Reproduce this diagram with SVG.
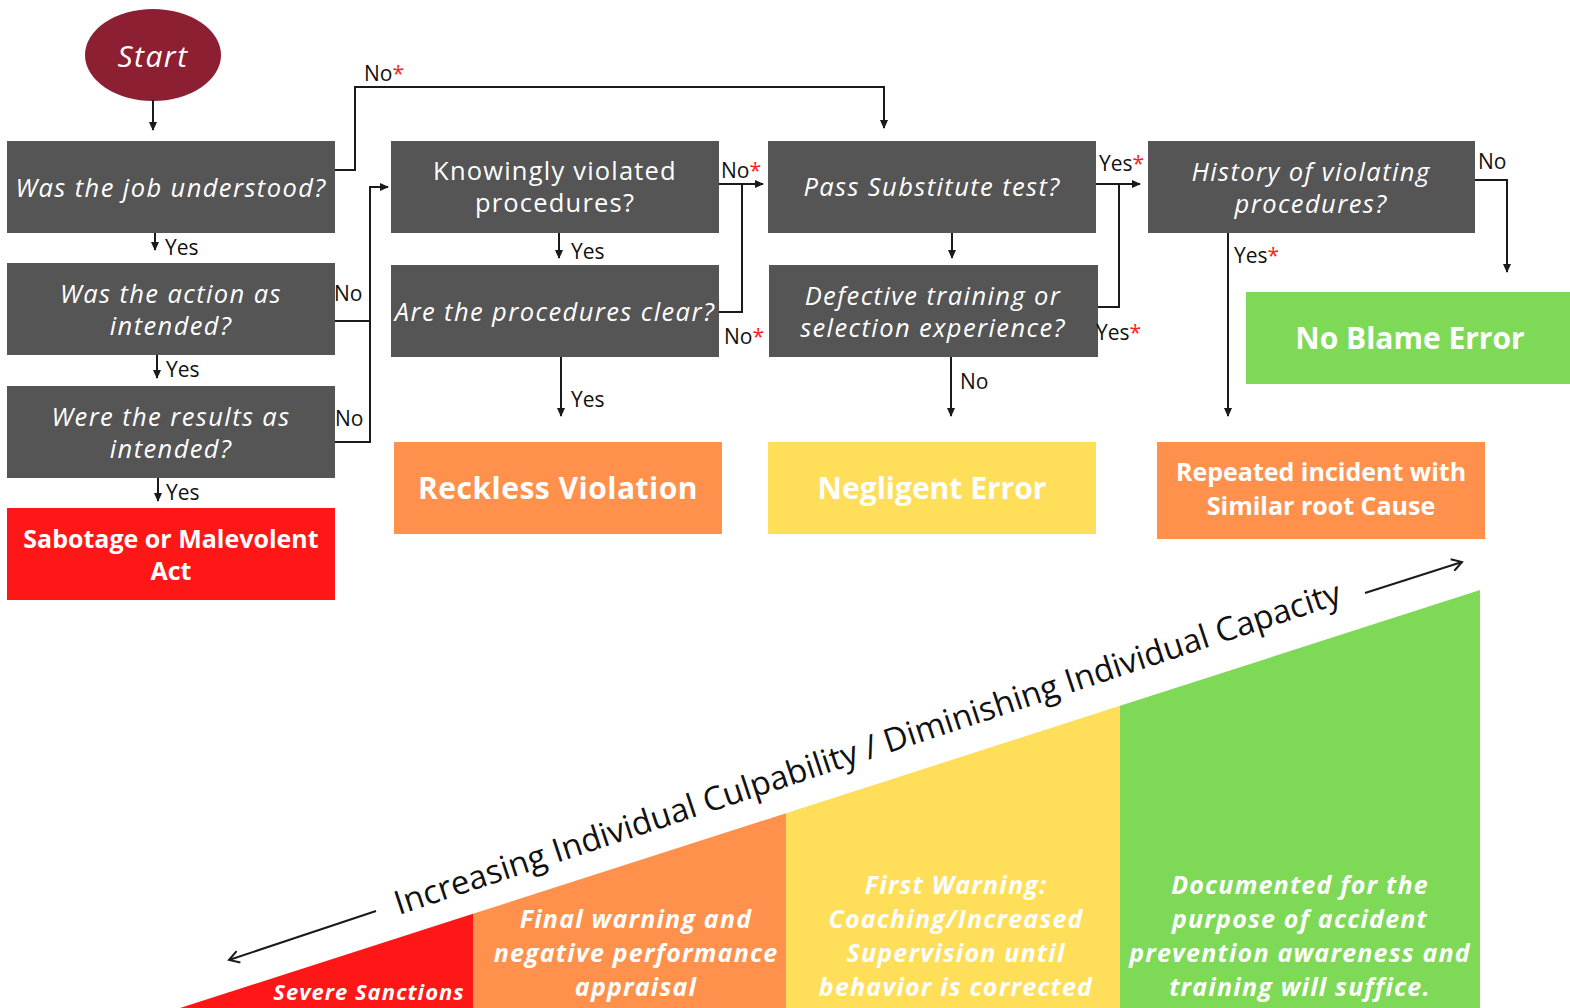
<svg xmlns="http://www.w3.org/2000/svg" width="1570" height="1008" viewBox="0 0 1570 1008">
<defs>
<marker id="ah" markerWidth="10" markerHeight="10" refX="8" refY="5" orient="auto" markerUnits="userSpaceOnUse">
<path d="M0,1 L9,5 L0,9 Z" fill="#1a1a1a"/>
</marker>
<marker id="oa" markerWidth="14" markerHeight="14" refX="11" refY="7" orient="auto" markerUnits="userSpaceOnUse">
<path d="M1,1 L11,7 L1,13" fill="none" stroke="#1a1a1a" stroke-width="2"/>
</marker>
<style>
.q{fill:#555555}
.qt{font-family:"Open Sans",sans-serif;font-size:25.5px;letter-spacing:1.4px;font-style:italic;fill:#ffffff;text-anchor:middle;dominant-baseline:central}
.qn{font-style:normal;letter-spacing:1.2px}
.rt{font-family:"Open Sans",sans-serif;font-weight:bold;fill:#ffffff;text-anchor:middle;dominant-baseline:central}
.lb{font-family:"Open Sans",sans-serif;font-size:21px;fill:#111111;dominant-baseline:central}
.st{fill:#ff2020}
.ln{fill:none;stroke:#1a1a1a;stroke-width:2}
.bt{font-family:"Open Sans",sans-serif;font-weight:bold;font-style:italic;font-size:25px;letter-spacing:1.2px;fill:#ffffff;text-anchor:middle;dominant-baseline:central}
</style>
</defs>
<rect width="1570" height="1008" fill="#ffffff"/>

<g id="start">
<ellipse cx="153" cy="55" rx="68" ry="46" fill="#8c1f32"/>
<text x="153" y="55" class="qt" style="font-size:30px;letter-spacing:1.5px">Start</text>
</g>

<g id="q1"><rect class="q" x="7" y="141" width="328" height="92"/><text class="qt" x="171" y="187">Was the job understood?</text></g>
<g id="q2"><rect class="q" x="7" y="263" width="328" height="92"/><text class="qt" x="171" y="293">Was the action as<tspan x="171" dy="32">intended?</tspan></text></g>
<g id="q3"><rect class="q" x="7" y="386" width="328" height="92"/><text class="qt" x="171" y="416">Were the results as<tspan x="171" dy="32">intended?</tspan></text></g>
<g id="sabotage"><rect x="7" y="508" width="328" height="92" fill="#ff1616"/><text class="rt" x="171" y="538" style="font-size:25px">Sabotage or Malevolent<tspan x="171" dy="32">Act</tspan></text></g>

<g id="q4"><rect class="q" x="391" y="141" width="328" height="92"/><text class="qt qn" x="555" y="170">Knowingly violated<tspan x="555" dy="32">procedures?</tspan></text></g>
<g id="q5"><rect class="q" x="391" y="265" width="328" height="92"/><text class="qt" x="555" y="311">Are the procedures clear?</text></g>
<g id="reckless"><rect x="394" y="442" width="328" height="92" fill="#ff914d"/><text class="rt" x="558" y="487" style="font-size:30px;letter-spacing:0.5px">Reckless Violation</text></g>

<g id="q6"><rect class="q" x="768" y="141" width="328" height="92"/><text class="qt" x="932" y="186">Pass Substitute test?</text></g>
<g id="q7"><rect class="q" x="769" y="265" width="329" height="92"/><text class="qt" x="933" y="295">Defective training or<tspan x="933" dy="32">selection experience?</tspan></text></g>
<g id="negligent"><rect x="768" y="442" width="328" height="92" fill="#ffde59"/><text class="rt" x="932" y="487" style="font-size:30px">Negligent Error</text></g>

<g id="q8"><rect class="q" x="1148" y="141" width="327" height="92"/><text class="qt" x="1311" y="171">History of violating<tspan x="1311" dy="32">procedures?</tspan></text></g>
<g id="noblame"><rect x="1246" y="292" width="324" height="92" fill="#7ed957"/><text class="rt" x="1410" y="337" style="font-size:30px">No Blame Error</text></g>
<g id="repeated"><rect x="1157" y="442" width="328" height="97" fill="#ff914d"/><text class="rt" x="1321" y="471" style="font-size:25px">Repeated incident with<tspan x="1321" dy="34">Similar root Cause</tspan></text></g>

<g id="connectors">
<path class="ln" d="M153,100 V130" marker-end="url(#ah)"/>
<path class="ln" d="M155,233 V250" marker-end="url(#ah)"/>
<path class="ln" d="M157,355 V378" marker-end="url(#ah)"/>
<path class="ln" d="M158,478 V501" marker-end="url(#ah)"/>
<path class="ln" d="M335,170 H355 V87 H884 V128" marker-end="url(#ah)"/>
<path class="ln" d="M335,321 H370"/>
<path class="ln" d="M335,442 H370 V187 H388" marker-end="url(#ah)"/>
<path class="ln" d="M559,233 V258" marker-end="url(#ah)"/>
<path class="ln" d="M561,357 V416" marker-end="url(#ah)"/>
<path class="ln" d="M719,184 H763" marker-end="url(#ah)"/>
<path class="ln" d="M719,312 H742 V184"/>
<path class="ln" d="M952,233 V258" marker-end="url(#ah)"/>
<path class="ln" d="M951,357 V416" marker-end="url(#ah)"/>
<path class="ln" d="M1096,184 H1140" marker-end="url(#ah)"/>
<path class="ln" d="M1098,307 H1119 V184"/>
<path class="ln" d="M1475,180 H1507 V272" marker-end="url(#ah)"/>
<path class="ln" d="M1228,233 V416" marker-end="url(#ah)"/>
<path class="ln" d="M376,911 L229,960" marker-end="url(#oa)"/>
<path class="ln" d="M1365,593 L1462,562" marker-end="url(#oa)"/>
</g>

<g id="labels">
<text class="lb" x="364" y="73">No<tspan class="st">*</tspan></text>
<text class="lb" x="165" y="247">Yes</text>
<text class="lb" x="166" y="369">Yes</text>
<text class="lb" x="166" y="492">Yes</text>
<text class="lb" x="334" y="293">No</text>
<text class="lb" x="335" y="418">No</text>
<text class="lb" x="571" y="251">Yes</text>
<text class="lb" x="571" y="399">Yes</text>
<text class="lb" x="721" y="170">No<tspan class="st">*</tspan></text>
<text class="lb" x="724" y="336">No<tspan class="st">*</tspan></text>
<text class="lb" x="960" y="381">No</text>
<text class="lb" x="1099" y="163">Yes<tspan class="st">*</tspan></text>
<text class="lb" x="1096" y="332">Yes<tspan class="st">*</tspan></text>
<text class="lb" x="1478" y="161">No</text>
<text class="lb" x="1234" y="255">Yes<tspan class="st">*</tspan></text>
</g>

<g id="scale">
<polygon points="180,1008 473,913.8 473,1008" fill="#ff1616"/>
<polygon points="473,913.8 786,813.2 786,1008 473,1008" fill="#ff914d"/>
<polygon points="786,813.2 1120,705.8 1120,1008 786,1008" fill="#ffde59"/>
<polygon points="1120,705.8 1480,590 1480,1008 1120,1008" fill="#7ed957"/>
<text transform="translate(867,747) rotate(-18.3)" style="font-family:'Open Sans',sans-serif;font-size:33px;fill:#111111;text-anchor:middle;dominant-baseline:central">Increasing Individual Culpability / Diminishing Individual Capacity</text>
<text class="bt" x="369" y="991" style="font-size:22px;letter-spacing:1px">Severe Sanctions</text>
<text class="bt" x="636" y="918">Final warning and<tspan x="636" dy="34">negative performance</tspan><tspan x="636" dy="34">appraisal</tspan></text>
<text class="bt" x="956" y="884">First Warning:<tspan x="956" dy="34">Coaching/Increased</tspan><tspan x="956" dy="34">Supervision until</tspan><tspan x="956" dy="34">behavior is corrected</tspan></text>
<text class="bt" x="1300" y="884">Documented for the<tspan x="1300" dy="34">purpose of accident</tspan><tspan x="1300" dy="34">prevention awareness and</tspan><tspan x="1300" dy="34">training will suffice.</tspan></text>
</g>
</svg>
